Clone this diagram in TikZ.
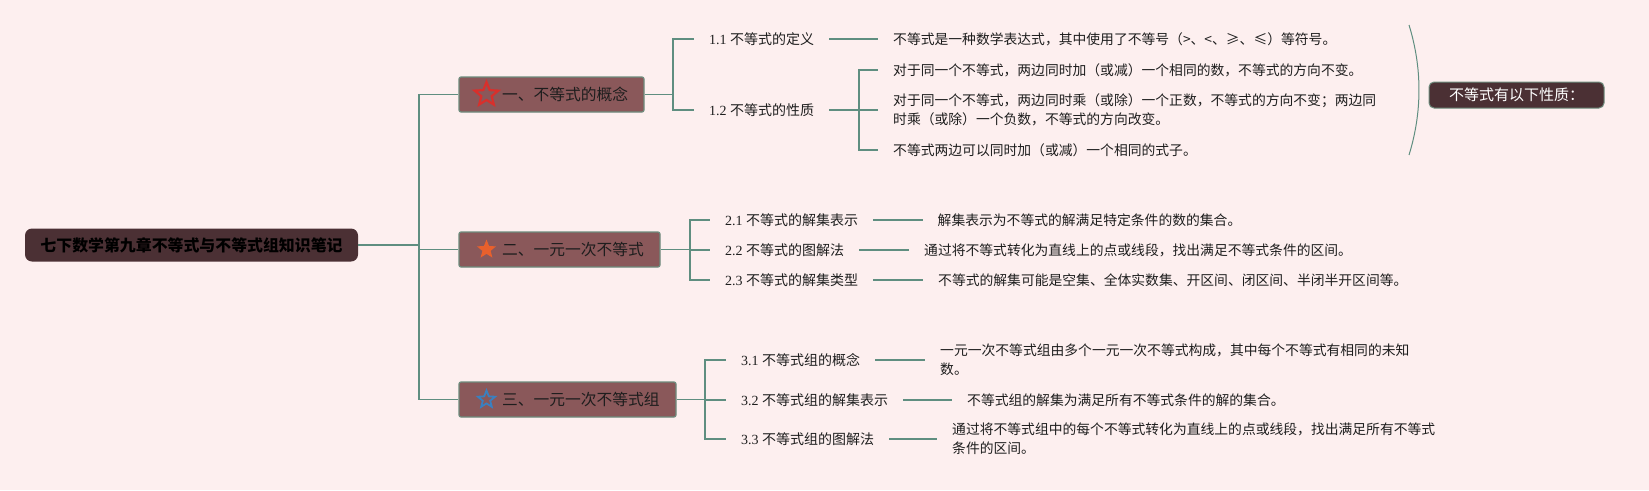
\documentclass[tikz,border=0pt]{standalone}
\usepackage{fontspec}
\setmainfont{Liberation Serif}
\newfontfamily\cjk{Noto Sans CJK SC}
\usetikzlibrary{shapes.geometric}
\definecolor{bg}{HTML}{FDEFEF}
\definecolor{lc}{HTML}{5F8E80}
\definecolor{rootc}{HTML}{4B3034}
\definecolor{brc}{HTML}{8A585A}
\definecolor{bdc}{HTML}{6E8C7D}
\definecolor{txt}{HTML}{1E1E1E}
\definecolor{sred}{HTML}{D8302C}
\definecolor{sorange}{HTML}{E8602C}
\definecolor{sblue}{HTML}{3A80C0}
\begin{document}
\begin{tikzpicture}[x=1pt,y=-1pt,
  conn/.style={draw=lc, line width=1.8pt},
  rootbox/.style={fill=rootc, rounded corners=7pt, minimum width=333pt, minimum height=33pt, inner sep=0pt, font=\cjk\bfseries\fontsize{15.9}{18}\selectfont, text=black},
  brbox/.style={fill=brc, draw=bdc, line width=1.2pt, rounded corners=2pt, minimum height=35pt, inner sep=0pt},
  brtext/.style={font=\cjk\fontsize{15.75}{18}\selectfont, text=txt, inner sep=0pt, anchor=west},
  lab/.style={font=\fontsize{14}{19}\selectfont, inner xsep=15pt, inner ysep=2pt, anchor=west, text=txt},
  det/.style={font=\cjk\fontsize{13.8}{19}\selectfont, inner xsep=15pt, inner ysep=2pt, anchor=west, align=left, text=txt},
  sumbox/.style={fill=rootc, draw=bdc, line width=1pt, rounded corners=5pt, minimum width=175pt, minimum height=26pt, inner sep=0pt, font=\cjk\fontsize{15}{18}\selectfont, text=white},
  starbase/.style={star, star points=5, star point ratio=2.3, inner sep=0pt}
]
\fill[bg] (0,0) rectangle (1649,490);
\useasboundingbox (0,0) rectangle (1649,490);

% root
\node[rootbox] (root) at (191.5,245) {七下数学第九章不等式与不等式组知识笔记};

% branch boxes
\node[brbox, minimum width=185pt] (b1) at (551.5,94.5) {};
\node[brbox, minimum width=201pt] (b2) at (559.5,249.5) {};
\node[brbox, minimum width=217pt] (b3) at (567.5,399.5) {};
\node[starbase, draw=sred, line width=2.2pt, minimum size=25pt] (s1) at (486.5,94.5) {};
\node[starbase, fill=sorange, minimum size=20pt] (s2) at (486.5,249.5) {};
\node[starbase, draw=sblue, line width=1.8pt, minimum size=18pt] (s3) at (486.5,399.5) {};
\node[brtext] (t1) at (502,94.5) {一、不等式的概念};
\node[brtext] (t2) at (502,249.5) {二、一元一次不等式};
\node[brtext] (t3) at (502,399.5) {三、一元一次不等式组};

% trunk
\coordinate (tr) at (419,245);
\draw[conn] (root.east) -- (tr);
\draw[conn] (tr) |- (b1.west);
\draw[conn] (tr) |- (b2.west);
\draw[conn] (tr) |- (b3.west);

% branch 1
\node[lab] (l11) at (694,39) {1.1 {\cjk 不等式的定义}};
\node[lab] (l12) at (694,110) {1.2 {\cjk 不等式的性质}};
\node[det] (d11) at (878,39) {不等式是一种数学表达式，其中使用了不等号（>、<、≥、≤）等符号。};
\node[det] (d12a) at (878,70) {对于同一个不等式，两边同时加（或减）一个相同的数，不等式的方向不变。};
\node[det] (d12b) at (878,110) {对于同一个不等式，两边同时乘（或除）一个正数，不等式的方向不变；两边同\\时乘（或除）一个负数，不等式的方向改变。};
\node[det] (d12c) at (878,150) {不等式两边可以同时加（或减）一个相同的式子。};
\coordinate (j1) at (673,94.5);
\draw[conn] (b1.east) -- (j1);
\draw[conn] (j1) |- (l11.west);
\draw[conn] (j1) |- (l12.west);
\draw[conn] (l11.east) -- (d11.west);
\coordinate (j12) at (859,110);
\draw[conn] (l12.east) -- (j12);
\draw[conn] (j12) |- (d12a.west);
\draw[conn] (j12) -- (d12b.west);
\draw[conn] (j12) |- (d12c.west);

% summary
\coordinate (arcA) at (1409,25);
\coordinate (arcB) at (1409,155);
\draw[lc, line width=1pt] (arcA) .. controls (1422.3,68) and (1422.3,112) .. (arcB);
\node[sumbox] (sum) at (1516.5,95) {不等式有以下性质：};

% branch 2
\node[lab] (l21) at (710,220) {2.1 {\cjk 不等式的解集表示}};
\node[lab] (l22) at (710,250) {2.2 {\cjk 不等式的图解法}};
\node[lab] (l23) at (710,280) {2.3 {\cjk 不等式的解集类型}};
\node[det] (d21) at (922.5,220) {解集表示为不等式的解满足特定条件的数的集合。};
\node[det] (d22) at (909,250) {通过将不等式转化为直线上的点或线段，找出满足不等式条件的区间。};
\node[det] (d23) at (923,280) {不等式的解集可能是空集、全体实数集、开区间、闭区间、半闭半开区间等。};
\coordinate (j2) at (690,249.5);
\draw[conn] (b2.east) -- (j2);
\draw[conn] (j2) |- (l21.west);
\draw[conn] (j2) |- (l22.west);
\draw[conn] (j2) |- (l23.west);
\draw[conn] (l21.east) -- (d21.west);
\draw[conn] (l22.east) -- (d22.west);
\draw[conn] (l23.east) -- (d23.west);

% branch 3
\node[lab] (l31) at (726,360) {3.1 {\cjk 不等式组的概念}};
\node[lab] (l32) at (726,400) {3.2 {\cjk 不等式组的解集表示}};
\node[lab] (l33) at (726,439) {3.3 {\cjk 不等式组的图解法}};
\node[det] (d31) at (925,360) {一元一次不等式组由多个一元一次不等式构成，其中每个不等式有相同的未知\\数。};
\node[det] (d32) at (952,400) {不等式组的解集为满足所有不等式条件的解的集合。};
\node[det] (d33) at (937,439) {通过将不等式组中的每个不等式转化为直线上的点或线段，找出满足所有不等式\\条件的区间。};
\coordinate (j3) at (705,399.5);
\draw[conn] (b3.east) -- (j3);
\draw[conn] (j3) |- (l31.west);
\draw[conn] (j3) |- (l32.west);
\draw[conn] (j3) |- (l33.west);
\draw[conn] (l31.east) -- (d31.west);
\draw[conn] (l32.east) -- (d32.west);
\draw[conn] (l33.east) -- (d33.west);
\end{tikzpicture}
\end{document}
